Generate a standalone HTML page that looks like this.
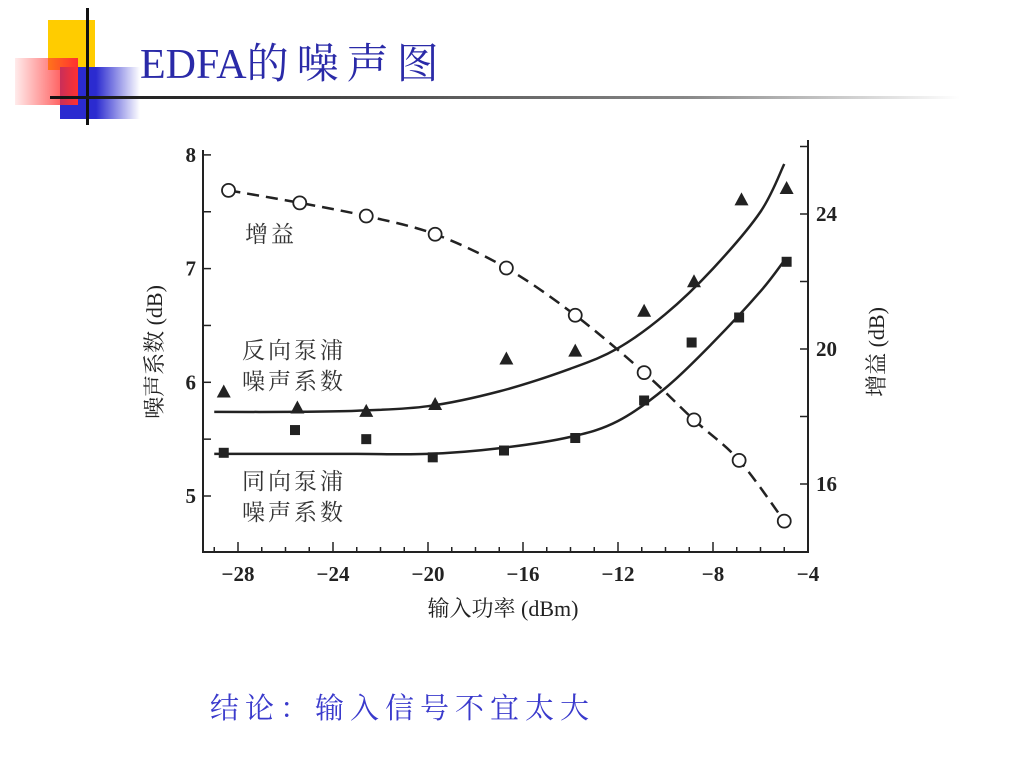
<!DOCTYPE html>
<html><head><meta charset="utf-8"><style>
body{margin:0;width:1024px;height:768px;background:#fff;overflow:hidden;position:relative;font-family:"Liberation Serif","Noto Serif CJK SC",serif}
.a{position:absolute}
</style></head><body>
<div class="a" style="left:48px;top:20px;width:47px;height:50px;background:#ffcc00"></div>
<div class="a" style="left:60px;top:67px;width:80px;height:52px;background:linear-gradient(90deg,#2b2bd0 0%,#2b2bd0 45%,rgba(43,43,208,0) 100%)"></div>
<div class="a" style="left:15px;top:58px;width:63px;height:47px;background:linear-gradient(90deg,rgba(255,60,60,0.1),#ff3030)"></div>
<div class="a" style="left:86px;top:8px;width:3px;height:117px;background:#111"></div>
<div class="a" style="left:50px;top:96px;width:910px;height:3px;background:linear-gradient(90deg,#111,#888 70%,#fff)"></div>
<div class="a" style="left:140px;top:31px;font-size:42px;color:#2a2aa8;font-family:'Liberation Serif','Noto Serif CJK SC',serif;white-space:nowrap">EDFA<span style="letter-spacing:8px">的噪声图</span></div>
<svg class="a" style="left:0;top:0" width="1024" height="768">
<g id="g" font-family="Liberation Serif, Noto Serif CJK SC, serif"></g>
</svg>
<div class="a" style="left:210px;top:686px;font-size:29px;color:#3a3acc;font-family:'Noto Serif CJK SC',serif;letter-spacing:6px;white-space:nowrap">结论：输入信号不宜太大</div>
<script>
const xTicks=[-28,-24,-20,-16,-12,-8,-4];
const yLeftTicks=[5,6,7,8];
const yRightTicks=[16,20,24];
const gainX=[-28.4,-25.4,-22.6,-19.7,-16.7,-13.8,-10.9,-8.8,-6.9,-5];
const gainY=[24.7,24.33,23.94,23.4,22.4,21.0,19.3,17.9,16.7,14.9];
const backX=[-28.6,-25.5,-22.6,-19.7,-16.7,-13.8,-10.9,-8.8,-6.8,-4.9];
const backY=[5.91,5.77,5.74,5.8,6.2,6.27,6.62,6.88,7.6,7.7];
const fwdX=[-28.6,-25.6,-22.6,-19.8,-16.8,-13.8,-10.9,-8.9,-6.9,-4.9];
const fwdY=[5.38,5.58,5.5,5.34,5.4,5.51,5.84,6.35,6.57,7.06];
const backFitX=[-29,-26,-23,-20,-17,-14,-12,-10,-8,-6,-5];
const backFitY=[5.74,5.74,5.75,5.79,5.92,6.12,6.3,6.6,7.0,7.5,7.92];
const fwdFitX=[-29,-26,-23,-20,-17,-14,-12,-10,-8,-6,-5];
const fwdFitY=[5.37,5.37,5.37,5.37,5.42,5.52,5.66,5.95,6.35,6.8,7.07];
const sx=v=>238+(v+28)*23.75;
const syL=v=>496-(v-5)*113.7;
const syR=v=>484-(v-16)*33.75;
const g=document.getElementById('g');
const NS='http://www.w3.org/2000/svg';
function mk(t,a,txt){const e=document.createElementNS(NS,t);for(const k in a)e.setAttribute(k,a[k]);if(txt!==undefined)e.textContent=txt;g.appendChild(e);return e;}
let e;
e=mk('path',{d:'M203,150 V552 H808 V140',fill:'none',stroke:'#222','stroke-width':2});


for(let v=-29;v<=-5;v++){const x=sx(v);const maj=(v%4===0);
e=mk('line',{x1:x,x2:x,y1:552,y2:maj?542:547,stroke:'#222','stroke-width':1.5});

}
xTicks.forEach(v=>{e=mk('text',{x:sx(v),y:581,'font-size':21,'font-weight':'bold','text-anchor':'middle',fill:'#222'},'−'+Math.abs(v));

});
for(let v=5;v<=8;v+=0.5){e=mk('line',{x1:203,x2:211,y1:syL(v),y2:syL(v),stroke:'#222','stroke-width':1.5});

}
yLeftTicks.forEach(v=>{e=mk('text',{x:196,y:syL(v)+7,'font-size':21,'font-weight':'bold','text-anchor':'end',fill:'#222'},v);

});
for(let v=14;v<=26;v+=2){const y=syR(v);if(y<145||y>550)continue;e=mk('line',{x1:800,x2:808,y1:y,y2:y,stroke:'#222','stroke-width':1.5});

}
yRightTicks.forEach(v=>{e=mk('text',{x:816,y:syR(v)+7,'font-size':21,'font-weight':'bold',fill:'#222'},v);

});
e=mk('text',{x:503,y:616,'font-size':22,'text-anchor':'middle',fill:'#222'},'输入功率 (dBm)');


e=mk('text',{x:0,y:0,'font-size':22,'text-anchor':'middle',fill:'#222',transform:'translate(162,352) rotate(-90)'},'噪声系数 (dB)');


e=mk('text',{x:0,y:0,'font-size':22,'text-anchor':'middle',fill:'#222',transform:'translate(884,352) rotate(-90)'},'增益 (dB)');


function smooth(xs,ys,fy){const p=xs.map((x,i)=>[sx(x),fy(ys[i])]);let d='M'+p[0];for(let i=0;i<p.length-1;i++){const p0=p[i-1]||p[i],p1=p[i],p2=p[i+1],p3=p[i+2]||p2;d+=' C'+(p1[0]+(p2[0]-p0[0])/6)+','+(p1[1]+(p2[1]-p0[1])/6)+' '+(p2[0]-(p3[0]-p1[0])/6)+','+(p2[1]-(p3[1]-p1[1])/6)+' '+p2;}return d;}
e=mk('path',{d:smooth(gainX,gainY,syR),fill:'none',stroke:'#222','stroke-width':2.5,'stroke-dasharray':'12,7'});


e=mk('path',{d:smooth(backFitX,backFitY,syL),fill:'none',stroke:'#222','stroke-width':2.5});


e=mk('path',{d:smooth(fwdFitX,fwdFitY,syL),fill:'none',stroke:'#222','stroke-width':2.5});


gainX.forEach((x,i)=>{e=mk('circle',{cx:sx(x),cy:syR(gainY[i]),r:6.5,fill:'#fff',stroke:'#222','stroke-width':1.8});

});
backX.forEach((x,i)=>{const X=sx(x),Y=syL(backY[i]);e=mk('path',{d:`M${X},${Y-8} L${X+7},${Y+5} L${X-7},${Y+5}Z`,fill:'#222'});

});
fwdX.forEach((x,i)=>{const X=sx(x),Y=syL(fwdY[i]);e=mk('rect',{x:X-5,y:Y-5,width:10,height:10,fill:'#222'});

});
[['增益',245,242,'gain-label'],['反向泵浦',242,358,'backward-label-1'],['噪声系数',242,389,'backward-label-2'],['同向泵浦',242,489,'forward-label-1'],['噪声系数',242,520,'forward-label-2']].forEach(t=>{
e=mk('text',{x:t[1],y:t[2],'font-size':23,fill:'#333','letter-spacing':3},t[0]);

});
</script>
</body></html>
